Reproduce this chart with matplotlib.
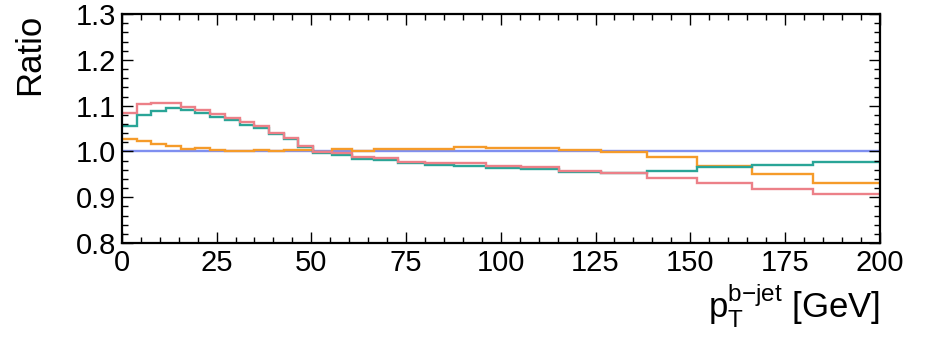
import numpy as np
import matplotlib
matplotlib.use("Agg")
import matplotlib.pyplot as plt
from matplotlib.ticker import MultipleLocator

plt.rcParams['font.family'] = ['Liberation Sans', 'DejaVu Sans']
plt.rcParams['mathtext.fontset'] = 'custom'
plt.rcParams['mathtext.rm'] = 'Liberation Sans'
plt.rcParams['mathtext.it'] = 'Liberation Sans'

# bin edges in GeV
edges = [0, 3.9, 7.8, 11.6, 15.5, 19.4, 23.3, 27.2, 31.1, 34.9, 38.8, 42.7,
         46.6, 50.5, 55.4, 60.7, 66.5, 72.9, 79.9, 87.6, 96.0, 105.2, 115.3,
         126.4, 138.5, 151.8, 166.4, 182.4, 200]

ratio_nominal = [1.0] * 28
ratio_orange = [1.027, 1.022, 1.017, 1.012, 1.005, 1.007, 1.004, 1.000,
                1.001, 1.003, 1.002, 1.003, 1.003, 0.998, 1.005, 1.002,
                1.006, 1.006, 1.006, 1.009, 1.008, 1.008, 1.004, 0.999,
                0.987, 0.968, 0.951, 0.930]
ratio_teal = [1.056, 1.080, 1.089, 1.095, 1.090, 1.084, 1.076, 1.068,
              1.058, 1.051, 1.038, 1.027, 1.010, 0.996, 0.992, 0.983,
              0.981, 0.974, 0.970, 0.968, 0.964, 0.961, 0.956, 0.953,
              0.958, 0.965, 0.970, 0.978]
ratio_red = [1.084, 1.104, 1.105, 1.105, 1.097, 1.091, 1.082, 1.074,
             1.064, 1.056, 1.040, 1.030, 1.012, 0.998, 0.996, 0.987,
             0.985, 0.978, 0.975, 0.974, 0.969, 0.967, 0.958, 0.953,
             0.943, 0.931, 0.919, 0.907]

fig = plt.figure(figsize=(9.3, 3.37), dpi=100)
ax = fig.add_axes([0.131, 0.279, 0.815, 0.679])

ax.stairs(ratio_nominal, edges, color='#7f8ff0', lw=1.7, baseline=None)
ax.stairs(ratio_orange, edges, color='#f59b2a', lw=1.7, baseline=None)
ax.stairs(ratio_teal, edges, color='#2aa597', lw=1.7, baseline=None)
ax.stairs(ratio_red, edges, color='#ec8088', lw=1.7, baseline=None)

ax.set_xlim(0, 200)
ax.set_ylim(0.8, 1.3)
ax.xaxis.set_major_locator(MultipleLocator(25))
ax.xaxis.set_minor_locator(MultipleLocator(5))
ax.yaxis.set_major_locator(MultipleLocator(0.1))
ax.yaxis.set_minor_locator(MultipleLocator(0.02))
ax.yaxis.set_major_formatter(matplotlib.ticker.FormatStrFormatter('%.1f'))
ax.tick_params(which='both', direction='in', top=True, right=True,
               labelsize=21, width=1.0, pad=4)
ax.tick_params(which='major', length=8)
ax.tick_params(which='minor', length=4)
for s in ax.spines.values():
    s.set_linewidth(1.6)

ax.set_ylabel('Ratio', fontsize=25, loc='top')
ax.yaxis.set_label_coords(-0.100, 1.0)
ax.set_xlabel(r'$\mathregular{p_T^{b{-}jet}}$ [GeV]', fontsize=25, loc='right')

fig.savefig('out.png', dpi=100)
